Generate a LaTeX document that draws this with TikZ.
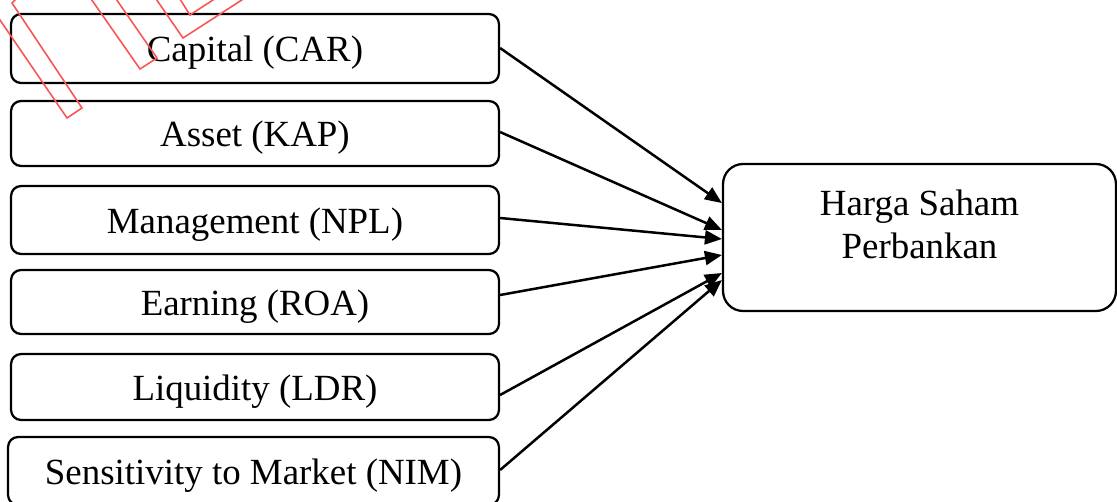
\documentclass[tikz,border=0pt]{standalone}
\usepackage{fontspec}
\setmainfont{Liberation Serif}
\usetikzlibrary{arrows.meta,calc}

\tikzset{
  inbox/.style={draw=black, line width=0.045cm, rounded corners=0.2cm,
    minimum width=9.76cm, inner sep=0pt, text height=0.62cm, text depth=0.1cm,
    font=\fontsize{21pt}{24.4pt}\selectfont},
  outbox/.style={draw=black, line width=0.045cm, rounded corners=0.4cm,
    minimum width=7.86cm, minimum height=2.94cm, inner sep=0pt},
  outtext/.style={align=center, inner sep=0pt,
    font=\fontsize{21pt}{24.4pt}\selectfont},
  link/.style={line width=0.05cm, -{Triangle[length=0.34cm,width=0.28cm]}},
  stamp/.style={draw={rgb,255:red,250;green,85;blue,85}, line width=0.9pt, line join=miter}
}

\begin{document}
\begin{tikzpicture}[x=0.02cm, y=-0.02cm]
\useasboundingbox (0,0) rectangle (1117,501);
\clip (0,0) rectangle (1117,501);

% input factors
\node[inbox, minimum height=1.38cm] (cap)  at (255,48.5)  {Capital (CAR)};
\node[inbox, minimum height=1.30cm] (ast)  at (255,133.5) {Asset (KAP)};
\node[inbox, minimum height=1.36cm] (mgt)  at (255,220)   {Management (NPL)};
\node[inbox, minimum height=1.28cm] (ern)  at (255,302)   {Earning (ROA)};
\node[inbox, minimum height=1.32cm] (liq)  at (255,387)   {Liquidity (LDR)};
\node[inbox, minimum height=1.36cm, minimum width=9.82cm] (sen) at (253.5,471) {Sensitivity to Market (NIM)};

% outcome
\node[outbox] (hs) at (919.5,237.5) {};
\node[outtext, anchor=base] (hstxt) at (919.5,258) {Harga Saham\\Perbankan};

% influences
\draw[link] ($(cap.east)+(0,-0.5)$) -- ($(hs.west)+(0,-34.5)$);
\draw[link] ($(ast.east)+(0,-1.5)$) -- ($(hs.west)+(0,-7.5)$);
\draw[link] ($(mgt.east)+(0,-2)$)   -- ($(hs.west)+(0,1.5)$);
\draw[link] ($(ern.east)+(0,-7)$)   -- ($(hs.west)+(0,17.5)$);
\draw[link] ($(liq.east)+(0,8)$)    -- ($(hs.west)+(0,35.5)$);
\draw[link] ($(sen.east)+(0,-1)$)   -- ($(hs.west)+(0,42.5)$);

% red outline marks at the top left
\draw[stamp] (-10,5.4) -- (67,118) -- (82,108) -- (12,3) -- (15,0) -- (18,-4);
\draw[stamp] (89,-4) -- (140,69) -- (157,58) -- (114,-4);
\draw[stamp] (154,-4) -- (183,38) -- (248,-4);
\draw[stamp] (178,-4) -- (190,15) -- (219,-4);
\end{tikzpicture}
\end{document}
